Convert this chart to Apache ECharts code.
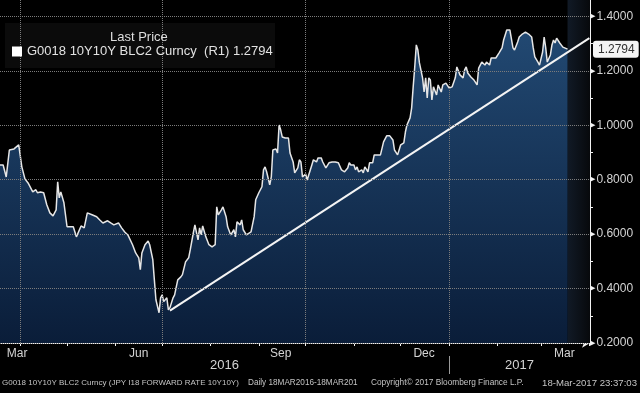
<!DOCTYPE html>
<html><head><meta charset="utf-8">
<script src="https://cdn.jsdelivr.net/npm/echarts@6/dist/echarts.min.js"></script>
<style>html,body{margin:0;padding:0;background:#000}#c{width:640px;height:393px}</style>
</head><body><div id="c"></div>
<script>
// ---- data ----
const seriesName = 'G0018 10Y10Y BLC2 Curncy';
const startDate = '2016-03-18';          // day 0 of dayOffset
// days after startDate
const dayOffset = [
  1,3,5,6,7,10,13,15,17,19,
  22,24,25,27,29,31,33,35,37,38,
  39,40,42,44,48,50,51,53,55,57,
  60,63,65,67,70,72,74,77,79,81,
  83,86,88,90,91,92,94,96,97,99,
  100,101,103,104,105,106,108,109,110,112,
  113,115,117,118,120,122,123,125,126,128,
  129,130,131,133,135,137,139,140,141,143,
  144,146,147,149,151,152,153,155,156,157,
  159,160,162,164,165,167,169,170,171,172,
  174,175,176,178,179,180,181,182,184,186,
  187,189,190,192,193,194,195,196,197,198,
  199,201,202,204,205,207,208,210,212,214,
  216,218,220,222,224,225,226,228,229,230,
  231,233,234,235,237,238,239,240,241,243,
  245,247,249,251,253,254,256,258,260,261,
  262,264,265,266,267,268,269,270,272,273,
  274,275,276,277,278,279,280,281,282,284,
  285,287,289,291,293,294,296,298,299,300,
  301,303,305,307,308,310,312,313,315,316,
  317,319,321,323,324,326,327,328,330,331,
  333,334,336,338,340,342,343,344,346,347,
  349,350,351,352,353,354,355,356,357,358,
  360,362,363,365
];
const lastPrice = [
  0.854,0.854,0.810,0.806,0.909,0.913,0.928,0.847,0.803,0.788,
  0.755,0.763,0.752,0.755,0.752,0.708,0.678,0.667,0.689,0.792,
  0.733,0.755,0.715,0.627,0.627,0.590,0.597,0.630,0.623,0.678,
  0.671,0.664,0.652,0.641,0.649,0.641,0.634,0.641,0.623,0.608,
  0.597,0.561,0.531,0.513,0.469,0.531,0.561,0.575,0.561,0.506,
  0.432,0.359,0.311,0.366,0.377,0.352,0.366,0.322,0.330,0.366,
  0.377,0.432,0.443,0.451,0.498,0.513,0.542,0.605,0.634,0.579,
  0.623,0.597,0.630,0.590,0.561,0.553,0.561,0.700,0.671,0.689,
  0.700,0.664,0.627,0.597,0.616,0.590,0.645,0.634,0.652,0.616,
  0.597,0.594,0.608,0.664,0.726,0.752,0.774,0.836,0.847,0.829,
  0.781,0.810,0.909,0.913,0.898,1.001,0.983,0.957,0.953,0.953,
  0.898,0.865,0.825,0.843,0.873,0.865,0.810,0.806,0.821,0.799,
  0.806,0.854,0.873,0.865,0.880,0.880,0.865,0.843,0.862,0.865,
  0.865,0.862,0.836,0.829,0.843,0.862,0.854,0.854,0.836,0.847,
  0.829,0.836,0.825,0.847,0.829,0.862,0.865,0.862,0.891,0.891,
  0.891,0.939,0.961,0.961,0.946,0.909,0.891,0.928,0.935,0.975,
  1.001,1.027,1.063,1.141,1.214,1.295,1.276,1.229,1.174,1.122,
  1.174,1.100,1.174,1.166,1.093,1.141,1.137,1.111,1.148,1.122,
  1.148,1.155,1.137,1.141,1.174,1.214,1.185,1.174,1.203,1.214,
  1.192,1.177,1.166,1.148,1.210,1.232,1.221,1.232,1.221,1.247,
  1.240,1.247,1.265,1.284,1.313,1.350,1.357,1.350,1.284,1.276,
  1.306,1.324,1.335,1.342,1.335,1.324,1.284,1.251,1.232,1.221,
  1.269,1.324,1.284,1.232,1.229,1.258,1.295,1.313,1.302,1.320,
  1.302,1.287,1.284,1.2794
];
// hand-drawn trend line (from the June low to the right axis)
const trendDays = [110, 379];
const trendValues = [0.319, 1.320];
// axis range in days after startDate
const axisMinDay = 1;
const axisMaxDay = 379.4;
// tick / label dates
const monthStarts = ['2016-04-01','2016-05-01','2016-06-01','2016-07-01','2016-08-01','2016-09-01',
  '2016-10-01','2016-11-01','2016-12-01','2017-01-01','2017-02-01','2017-03-01','2017-04-01'];
const monthLabelDates = ['2016-03-30','2016-06-16','2016-09-15','2016-12-16','2017-03-16'];
const monthNames = ['Jan','Feb','Mar','Apr','May','Jun','Jul','Aug','Sep','Oct','Nov','Dec'];
const quarterStarts = ['2016-04-01','2016-07-01','2016-10-01','2017-01-01'];
const yearBreak = '2017-01-01';
const yMin = 0.2, yMax = 1.46, yInterval = 0.2;
const footerTexts = [
  'G0018 10Y10Y BLC2 Curncy (JPY I18 FORWARD RATE 10Y10Y)',
  'Daily 18MAR2016-18MAR201',
  'Copyright\u00A9 2017 Bloomberg Finance L.P.',
  '18-Mar-2017 23:37:03'
];

if (dayOffset.length !== lastPrice.length) console.error('length mismatch');

// ---- helpers ----
const DAY = 86400000;
const ts = s => Date.parse(s + 'T00:00:00Z');
const t0 = ts(startDate);
const dayTs = d => t0 + d * DAY;
const axisMin = dayTs(axisMinDay), axisMax = dayTs(axisMaxDay);
const priceData = dayOffset.map((d, i) => [dayTs(d), lastPrice[i]]);
const trendData = trendDays.map((d, i) => [dayTs(d), trendValues[i]]);
const lastVal = lastPrice[lastPrice.length - 1];
const lastTs = dayTs(dayOffset[dayOffset.length - 1]);
const brk = ts(yearBreak);
const yearCenters = [(axisMin + brk) / 2, (brk + axisMax) / 2];
// major y levels (grid) and half-step minor tick levels
const yMajor = [], yMinor = [];
for (let v = yMin; v <= yMax + 1e-9; v += yInterval) {
  yMajor.push(+v.toFixed(4));
  if (v + yInterval / 2 <= yMax) yMinor.push(+(v + yInterval / 2).toFixed(4));
}

const FONT = "'Liberation Sans', Arial, sans-serif";
const GRIDLINE = {color: '#7c7c7c', type: 'dotted', width: 1};
const footStyle = (fs) => ({color: '#c4c4c4', fontSize: fs, fontWeight: 'normal', fontFamily: FONT});
const chart = echarts.init(document.getElementById('c'), null, {renderer: 'canvas'});
chart.setOption({
  backgroundColor: '#000',
  animation: false,
  textStyle: {fontFamily: FONT},
  grid: {left: 0, right: 50, top: 0, bottom: 50},
  graphic: [{
    type: 'rect', left: 5, top: 23, z: 5,
    shape: {width: 270, height: 45},
    style: {fill: '#0b0b0b'}
  }],
  title: [
    {text: 'Last Price', left: 110, top: 31, padding: 0, z: 8,
      textStyle: {color: '#dedede', fontSize: 13, fontWeight: 'normal', fontFamily: FONT}},
    {text: footerTexts[0], left: 2, top: 379, padding: 0, textStyle: footStyle(8)},
    {text: footerTexts[1], left: 248, top: 379, padding: 0, textStyle: footStyle(8.2)},
    {text: footerTexts[2], left: 371, top: 379, padding: 0, textStyle: footStyle(8.3)},
    {text: footerTexts[3], right: 3, top: 378, padding: 0, textStyle: footStyle(9.6)}
  ],
  legend: {
    data: [seriesName], left: 12, top: 45, padding: 0, z: 8,
    icon: 'rect', itemWidth: 10, itemHeight: 10, itemGap: 5,
    selectedMode: false,
    formatter: n => n + '  (R1) ' + lastVal.toFixed(4),
    textStyle: {color: '#e2e2e2', fontSize: 13, fontFamily: FONT}
  },
  xAxis: [{
    type: 'value', min: axisMin, max: axisMax, position: 'bottom',
    axisLine: {show: true, onZero: false, symbol: ['none', 'arrow'], symbolSize: [7, 8],
      lineStyle: {color: '#f2f2f2', width: 1}},
    axisTick: {show: true, length: 3, customValues: monthStarts.map(ts), lineStyle: {color: '#f2f2f2'}},
    axisLabel: {customValues: monthLabelDates.map(ts), margin: 5, color: '#d4d4d4', fontSize: 12,
      formatter: v => monthNames[new Date(v).getUTCMonth()]},
    splitLine: {show: false}
  }, {
    type: 'value', min: axisMin, max: axisMax, position: 'bottom', offset: 13,
    axisLine: {show: false, onZero: false},
    axisTick: {show: true, length: 18, customValues: [brk], lineStyle: {color: '#9a9a9a'}},
    axisLabel: {customValues: yearCenters, margin: 3, color: '#d4d4d4', fontSize: 13,
      formatter: v => String(new Date(v).getUTCFullYear())},
    splitLine: {show: false}
  }],
  yAxis: {
    type: 'value', position: 'right', min: yMin, max: yMax, interval: yInterval,
    axisLine: {show: true, lineStyle: {color: '#f2f2f2', width: 1}},
    axisTick: {show: true, length: 3, customValues: yMinor, lineStyle: {color: '#f2f2f2', width: 1}},
    splitLine: {show: false},
    axisLabel: {
      customValues: yMajor.filter(v => v < 1.45),
      margin: 0, color: '#d4d4d4', fontSize: 12,
      formatter: v => '{t|\u25B6}' + v.toFixed(4),
      rich: {t: {fontSize: 7, color: '#f2f2f2', fontFamily: 'DejaVu Sans', padding: [0, 1, 0, 0]}}
    },
    axisPointer: {
      show: true, type: 'line', value: lastVal, status: 'show', triggerTooltip: false,
      lineStyle: {opacity: 0},
      label: {show: true, formatter: p => Number(p.value).toFixed(4), backgroundColor: '#f4f4f4',
        color: '#333', fontSize: 12, fontFamily: FONT, padding: [3, 4, 2, 5], margin: 3,
        borderRadius: 3}
    }
  },
  series: [{
    name: seriesName, type: 'line', data: priceData, showSymbol: false, symbol: 'none',
    lineStyle: {color: '#e6e6e6', width: 1.5},
    itemStyle: {color: '#ffffff'},
    areaStyle: {
      color: {type: 'linear', x: 0, y: 0, x2: 0, y2: 343, global: true,
        colorStops: [{offset: 0, color: '#244d78'}, {offset: 1, color: '#0a1d39'}]},
      opacity: 1
    },
    markArea: {
      silent: true,
      itemStyle: {color: {type: 'linear', x: 0, y: 0, x2: 1, y2: 0,
        colorStops: [{offset: 0, color: '#111a26'}, {offset: 1, color: '#07090c'}]}},
      data: [[{xAxis: lastTs}, {xAxis: axisMax}]]
    }
  }, {
    // dotted grid drawn above the filled area, positioned by the axes' own scales
    name: 'grid', type: 'line', data: [], silent: true, z: 3,
    markLine: {
      silent: true, symbol: 'none', label: {show: false}, lineStyle: GRIDLINE,
      data: quarterStarts.map(d => ({xAxis: ts(d)}))
        .concat(yMajor.map(v => ({yAxis: v})))
    }
  }, {
    name: 'Trend', type: 'line', data: trendData, showSymbol: false, symbol: 'none',
    lineStyle: {color: '#f4f4f4', width: 2}, z: 4
  }]
});
</script></body></html>
